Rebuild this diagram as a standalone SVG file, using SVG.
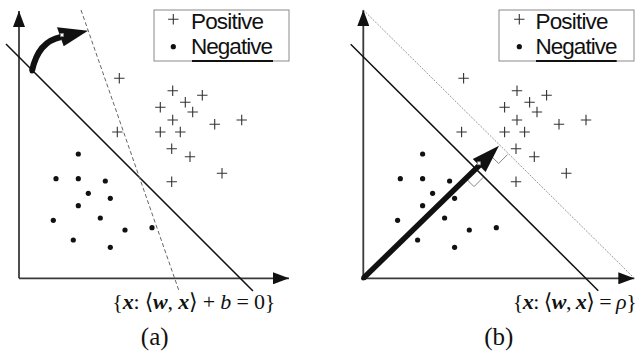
<svg xmlns="http://www.w3.org/2000/svg" width="638" height="356" viewBox="0 0 638 356">
<style>
.ax{stroke:#3a3a3a;stroke-width:1.8;fill:none}
.sep{stroke:#111;stroke-width:1.5;fill:none}
.dash{stroke:#666;stroke-width:1;stroke-dasharray:4 2.5;fill:none}
.dotl{stroke:#8a8a8a;stroke-width:0.9;stroke-dasharray:2 1.3;fill:none}
.pl{stroke:#333;stroke-width:1.1;fill:none}
.leg{fill:#fff;stroke:#8a8a8a;stroke-width:1}
.ul{stroke:#111;stroke-width:2}
.lt{font-family:"Liberation Sans",Arial,sans-serif;font-size:22.5px;fill:#111}
.mt{font-family:"Liberation Serif","DejaVu Serif",serif;font-size:22px;fill:#111}
.cap{font-family:"Liberation Serif",serif;font-size:25px;fill:#111;text-anchor:middle}
.ra{stroke:#777;stroke-width:0.9;fill:none}
.bi{font-weight:bold;font-style:italic}
.it{font-style:italic}
.sq{fill:#fff;stroke:#888;stroke-width:0.8}
</style>
<defs>
<marker id="ah" markerUnits="userSpaceOnUse" markerWidth="16" markerHeight="12" refX="16" refY="6" orient="auto"><path d="M0,0L16,6L0,12z" fill="#111"/></marker>
<path id="plus" class="pl" d="M-5.2,0H5.2M0,-5.2V5.2"/>
<circle id="dt" r="2.6" fill="#111"/>
<g id="pts">
<use href="#plus" x="119.3" y="78.3"/>
<use href="#plus" x="172.7" y="90.7"/>
<use href="#plus" x="202.3" y="95.3"/>
<use href="#plus" x="185.3" y="102.3"/>
<use href="#plus" x="160.3" y="107.3"/>
<use href="#plus" x="192.7" y="112"/>
<use href="#plus" x="172.7" y="120"/>
<use href="#plus" x="214.7" y="124.3"/>
<use href="#plus" x="241.7" y="120"/>
<use href="#plus" x="117.3" y="132"/>
<use href="#plus" x="160.3" y="132"/>
<use href="#plus" x="180.3" y="132"/>
<use href="#plus" x="171.7" y="148.7"/>
<use href="#plus" x="190" y="156.7"/>
<use href="#plus" x="222" y="173.3"/>
<use href="#plus" x="171.7" y="181.7"/>
<use href="#dt" x="78.3" y="154"/>
<use href="#dt" x="56" y="178.7"/>
<use href="#dt" x="78.3" y="178.7"/>
<use href="#dt" x="105.3" y="181"/>
<use href="#dt" x="88.3" y="193.3"/>
<use href="#dt" x="110.3" y="198.3"/>
<use href="#dt" x="78.3" y="205.7"/>
<use href="#dt" x="53.3" y="220.3"/>
<use href="#dt" x="100.3" y="218"/>
<use href="#dt" x="125" y="230"/>
<use href="#dt" x="152" y="227.7"/>
<use href="#dt" x="73.3" y="240"/>
<use href="#dt" x="110.3" y="247.3"/>
</g>
</defs>

<g id="panel-a">
<g id="points-a"><use href="#pts"/></g>
<g id="connectors-a">
<path class="ax" d="M19,278.3V11" marker-end="url(#ah)"/>
<path class="ax" d="M19,278.3H289" marker-end="url(#ah)"/>
<path class="sep" d="M6,44L253,291"/>
<path class="dash" d="M81,10L179.3,291.7"/>
<path d="M32,71Q38,41.6 61,37" fill="none" stroke="#111" stroke-width="6"/>
<polygon points="57,27.3 88,30.7 63.7,46.3" fill="#111"/>
<circle cx="32" cy="71" r="2.5" fill="#111"/>
<rect class="sq" x="60.5" y="33.5" width="3" height="3"/>
</g>
<g id="legend-a">
<rect class="leg" x="154" y="10" width="135" height="51"/>
<line class="ul" x1="192" y1="61" x2="273" y2="61"/>
<use href="#plus" x="173.3" y="19.3"/>
<use href="#dt" x="173.3" y="46.7"/>
<text class="lt" x="191" y="29" textLength="73">Positive</text>
<text class="lt" x="191" y="54" textLength="82">Negative</text>
</g>
<text class="mt" x="112.3" y="309" textLength="163">{<tspan class="bi">x</tspan>: ⟨<tspan class="bi">w</tspan>, <tspan class="bi">x</tspan>⟩ + <tspan class="it">b</tspan> = 0}</text>
<text class="cap" x="154.7" y="345">(a)</text>
</g>

<g id="panel-b">
<g id="points-b"><use href="#pts" x="344.3"/></g>
<g id="connectors-b">
<path class="ax" d="M363.3,278.3V10" marker-end="url(#ah)"/>
<path class="ax" d="M363.3,278.3H634.3" marker-end="url(#ah)"/>
<path class="sep" d="M350.7,44.3L598.3,290.7"/>
<path class="dotl" d="M363.3,10L634.3,278.3"/>
<polyline class="ra" points="464.5,177.1 474,186.6 483.5,177.1"/>
<polyline class="ra" points="489.6,154.5 498.6,163.5 507.6,154.5"/>
<path d="M363.3,278.3L480.5,164.2" fill="none" stroke="#111" stroke-width="5.5"/>
<polygon points="499,145.7 472.8,159.1 485.6,171.9" fill="#111"/>
<circle cx="363.3" cy="278.3" r="2.3" fill="#111"/>
<rect class="sq" x="477.5" y="161.8" width="3" height="3"/>
</g>
<g id="legend-b">
<rect class="leg" x="499" y="10" width="135" height="51"/>
<line class="ul" x1="536" y1="61" x2="616.7" y2="61"/>
<use href="#plus" x="519.3" y="19.3"/>
<use href="#dt" x="519.3" y="46.7"/>
<text class="lt" x="535.5" y="29" textLength="73">Positive</text>
<text class="lt" x="535.5" y="54" textLength="82">Negative</text>
</g>
<text class="mt" x="512.7" y="309" textLength="124">{<tspan class="bi">x</tspan>: ⟨<tspan class="bi">w</tspan>, <tspan class="bi">x</tspan>⟩ = <tspan class="it">ρ</tspan>}</text>
<text class="cap" x="498.8" y="345">(b)</text>
</g>
</svg>
